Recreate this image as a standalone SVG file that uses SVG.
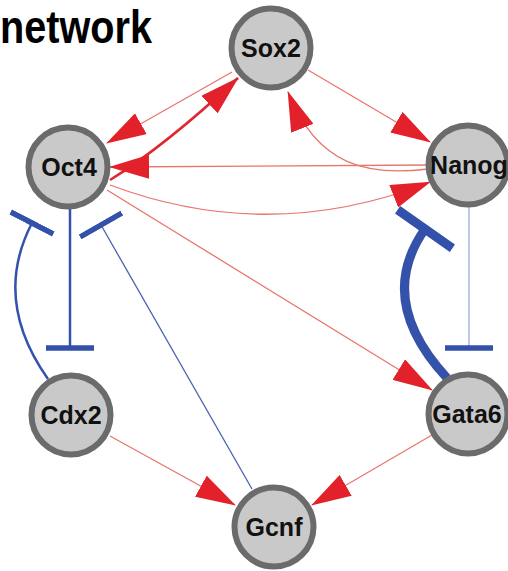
<svg xmlns="http://www.w3.org/2000/svg" width="508" height="571" viewBox="0 0 508 571">
<style>
.node circle{fill:#c9c9c9;stroke:#6b6b6b;stroke-width:6}
.node text{font-family:"Liberation Sans",Arial,sans-serif;font-weight:bold;font-size:25px;text-anchor:middle;fill:#111}
.act{fill:none;stroke:#e8766c;stroke-width:1.3;marker-end:url(#arr)}
.actb{fill:none;stroke:#e0262e;stroke-width:2.6;marker-end:url(#arr)}
.inh{fill:none;stroke:#3452aa;stroke-width:2.5;marker-end:url(#tee)}
.title{font-family:"Liberation Sans",Arial,sans-serif;font-weight:bold;font-size:47px;fill:#000}
</style>
<defs>
<marker id="arr" markerUnits="userSpaceOnUse" viewBox="0 0 40 24" markerWidth="40" markerHeight="24" refX="39" refY="12" orient="auto"><path d="M0,0 L40,12 L0,24 Z" fill="#e3212b"/></marker>
<marker id="tee" markerUnits="userSpaceOnUse" viewBox="-3 -24 6 48" markerWidth="6" markerHeight="48" refX="0" refY="0" orient="auto"><rect x="-2.75" y="-24" width="5.5" height="48" fill="#3350aa"/></marker>
<marker id="teeBig" markerUnits="userSpaceOnUse" viewBox="-5 -34 10 68" markerWidth="10" markerHeight="68" refX="0" refY="0" orient="auto"><rect x="-4.5" y="-33.5" width="9" height="67" fill="#3350aa"/></marker>
</defs>
<rect width="508" height="571" fill="#fff"/>
<text class="title" x="0" y="43" textLength="152" lengthAdjust="spacingAndGlyphs">network</text>
<g id="connectors">
<path class="act" d="M232,72 L107,143"/>
<path class="actb" d="M110,180 Q165,146 238,78"/>
<path class="act" d="M308,70 L430,142"/>
<path class="act" d="M428,169 C370,176 318,168 288,92"/>
<path class="act" d="M428,165 L110,167"/>
<path class="act" d="M110,185 Q270,245 430,182"/>
<path class="act" d="M107,190 L432,390"/>
<path class="act" d="M110,436 L235,505"/>
<path class="act" d="M432,435 L312,505"/>
<path class="inh" d="M70,209 L70,348"/>
<path class="inh" d="M48,379 Q-8,300 32,223"/>
<path class="inh" style="stroke:#4862b2;stroke-width:1.3" d="M252,489 L101,225"/>
<path class="inh" style="stroke:#93a2d6;stroke-width:1.2" d="M469,207 L469,348"/>
<path class="inh" style="stroke-width:9;marker-end:url(#teeBig)" d="M447,378 Q375,300 425,229"/>
</g>
<g id="Sox2" class="node"><circle cx="271" cy="48" r="39.5"/><text x="271" y="57">Sox2</text></g>
<g id="Oct4" class="node"><circle cx="68" cy="167" r="39.5"/><text x="69" y="176">Oct4</text></g>
<g id="Nanog" class="node"><circle cx="468" cy="165" r="39.5"/><text x="469" y="174">Nanog</text></g>
<g id="Cdx2" class="node"><circle cx="71" cy="415" r="39.5"/><text x="71" y="424">Cdx2</text></g>
<g id="Gata6" class="node"><circle cx="468" cy="414" r="39.5"/><text x="467" y="423">Gata6</text></g>
<g id="Gcnf" class="node"><circle cx="274" cy="527" r="39.5"/><text x="274" y="536">Gcnf</text></g>
</svg>
